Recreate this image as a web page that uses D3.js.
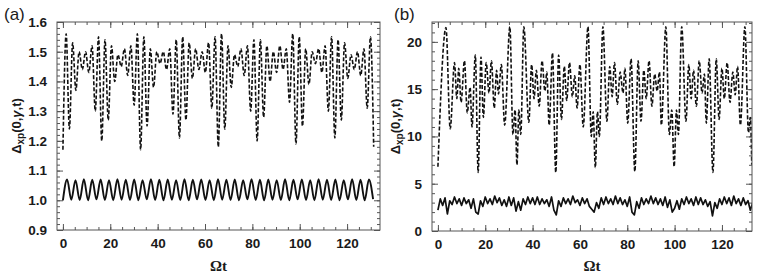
<!DOCTYPE html>
<html>
<head>
<meta charset="utf-8">
<script src="https://cdn.jsdelivr.net/npm/d3@7"></script>
<style>
  body { margin: 0; background: #fff; }
  .tick text { font-family: "Liberation Sans", Arial, sans-serif; font-weight: bold; font-size: 13.5px; fill: #1a1a1a; }
  .tick line { stroke: #555; }
</style>
</head>
<body>
<script>
// ---- panel (a): Δxp vs Ωt, values read at the extrema of each curve ----
var stepDashA = 1.367;   // Ωt spacing of the dashed-curve extrema
var dashA = [
  1.17, 1.56, 1.24, 1.53, 1.37, 1.50, 1.44, 1.50, 1.43, 1.52, 1.30, 1.55,
  1.20, 1.54, 1.27, 1.52, 1.40, 1.49, 1.45, 1.51, 1.42, 1.52, 1.32, 1.56,
  1.17, 1.55, 1.25, 1.51, 1.38, 1.50, 1.46, 1.50, 1.44, 1.51, 1.29, 1.54,
  1.21, 1.55, 1.27, 1.53, 1.41, 1.51, 1.44, 1.50, 1.43, 1.53, 1.31, 1.55,
  1.18, 1.56, 1.24, 1.52, 1.38, 1.49, 1.45, 1.51, 1.42, 1.52, 1.30, 1.54,
  1.20, 1.54, 1.28, 1.52, 1.40, 1.50, 1.43, 1.52, 1.44, 1.51, 1.33, 1.56,
  1.19, 1.55, 1.25, 1.51, 1.39, 1.50, 1.46, 1.51, 1.43, 1.52, 1.30, 1.55,
  1.21, 1.54, 1.27, 1.53, 1.41, 1.49, 1.44, 1.50, 1.42, 1.51, 1.31, 1.55,
  1.18
];
var stepSolidA = 1.77;   // half period of the solid curve
var solidA = [
  1.000, 1.070, 1.002, 1.068, 1.001, 1.071, 1.000, 1.069, 1.003, 1.070,
  1.001, 1.068, 1.000, 1.071, 1.002, 1.069, 1.001, 1.070, 1.000, 1.068,
  1.003, 1.071, 1.001, 1.069, 1.000, 1.070, 1.002, 1.068, 1.001, 1.071,
  1.000, 1.069, 1.003, 1.070, 1.001, 1.068, 1.000, 1.071, 1.002, 1.069,
  1.001, 1.070, 1.000, 1.068, 1.003, 1.071, 1.001, 1.069, 1.000, 1.070,
  1.002, 1.068, 1.001, 1.071, 1.000, 1.069, 1.003, 1.070, 1.001, 1.068,
  1.000, 1.071, 1.002, 1.069, 1.001, 1.070, 1.000, 1.068, 1.003, 1.071,
  1.001, 1.069, 1.000, 1.070, 1.004
];

// ---- panel (b) ----
var dashBt = [
  0.0, 3.4, 5.2, 7.0, 8.0, 8.8, 9.8, 11.2, 12.4, 13.6, 14.4, 15.8, 17.0, 18.2, 19.2, 20.4,
  21.6, 22.6, 23.8, 24.8, 25.6, 26.8, 28.2, 30.4, 31.7, 32.6, 33.4, 34.2, 35.0, 36.3, 38.4,
  39.6, 40.6, 41.6, 42.8, 44.0, 45.2, 46.0, 47.0, 48.4, 49.8, 51.0, 52.2, 53.4, 54.4, 55.6,
  56.8, 57.8, 58.8, 60.0, 61.4, 63.4, 64.8, 65.6, 66.5, 67.4, 68.2, 69.7, 71.4, 72.6, 73.6,
  74.6, 75.8, 77.0, 78.2, 79.0, 80.2, 81.6, 83.2, 84.6, 85.8, 87.0, 88.0, 89.2, 90.4, 91.6,
  92.6, 93.6, 94.4, 96.3, 97.8, 98.8, 99.8, 100.8, 101.6, 103.0, 104.8, 106.0, 107.0, 108.0,
  109.2, 110.4, 111.6, 112.6, 113.4, 114.6, 116.2, 117.6, 118.8, 120.0, 121.0, 122.2, 123.4,
  124.6, 125.6, 126.6, 127.8, 129.7, 131.2, 132.0, 132.6
];
var dashB = [
  6.8, 21.5, 10.8, 17.8, 14.0, 17.2, 13.6, 18.0, 12.5, 15.2, 11.0, 18.6, 6.2, 18.4, 12.0, 17.8,
  14.6, 18.0, 13.0, 17.0, 14.5, 17.6, 11.2, 21.6, 10.2, 12.8, 7.0, 12.8, 10.2, 21.6, 11.5,
  17.6, 14.0, 17.0, 13.2, 18.0, 14.8, 16.8, 11.2, 18.8, 6.2, 18.6, 11.8, 17.4, 13.8, 17.8,
  14.2, 16.4, 13.0, 17.6, 11.0, 21.6, 10.0, 12.6, 6.7, 12.6, 10.0, 21.6, 11.6, 17.4, 14.2,
  17.8, 13.4, 16.8, 14.6, 17.2, 11.4, 18.2, 6.3, 18.0, 11.6, 17.0, 14.0, 18.0, 13.2, 16.6,
  14.8, 16.8, 11.2, 21.6, 10.2, 12.8, 6.8, 12.8, 10.2, 21.6, 11.6, 17.6, 14.0, 17.0,
  13.2, 18.0, 14.6, 16.6, 11.4, 18.2, 6.2, 18.2, 11.8, 17.2, 14.0, 17.8, 13.6,
  16.8, 14.4, 17.4, 11.2, 21.6, 10.4, 12.0, 7.0
];
var stepSolidB = 1.0;
var solidB = [
  2.2, 3.4, 2.7, 3.5, 1.8, 3.2, 2.8, 3.6, 2.9, 3.4, 2.7,
  3.5, 2.9, 3.3, 2.4, 3.4, 2.0, 1.8, 3.2, 2.6, 3.6,
  2.9, 3.4, 2.8, 3.7, 3.0, 3.5, 2.7, 3.3, 2.6, 3.6,
  2.7, 3.5, 2.1, 3.1, 2.2, 3.4, 2.8, 3.6, 2.9, 3.5,
  2.8, 3.6, 2.8, 3.4, 2.9, 3.3, 2.6, 3.6, 2.2, 1.7,
  3.2, 2.6, 3.5, 2.9, 3.4, 2.8, 3.7, 3.0, 3.3, 2.7,
  3.5, 2.9, 3.4, 2.6, 2.3, 2.0, 3.0, 2.4, 3.5, 2.8,
  3.6, 2.9, 3.4, 2.8, 3.7, 2.9, 3.5, 2.8, 3.3, 2.6,
  3.6, 2.0, 1.7, 3.1, 2.4, 3.5, 2.8, 3.4, 2.9, 3.7,
  2.9, 3.5, 2.8, 3.4, 2.7, 3.6, 2.5, 3.3, 2.0, 2.4,
  3.2, 2.3, 3.4, 2.8, 3.6, 2.9, 3.4, 2.7, 3.6, 2.8,
  3.5, 2.8, 3.3, 2.6, 3.1, 1.6, 3.0, 2.4, 3.4, 2.8,
  3.6, 2.9, 3.5, 2.7, 3.7, 2.9, 3.4, 2.7, 3.5, 2.8,
  3.2, 2.2, 3.0
];

var yTicksA = [0.9, 1.0, 1.1, 1.2, 1.3, 1.4, 1.5, 1.6];
var yTicksB = [0, 5, 10, 15, 20];
var xTicks = [0, 20, 40, 60, 80, 100, 120];

var W = 763, H = 273;
var svg = d3.select("body").append("svg")
  .attr("width", W).attr("height", H)
  .style("background", "#fff");

function rangeTicks(a, b, s) {
  var out = [];
  for (var v = a; v <= b + 1e-9; v += s) out.push(+v.toFixed(4));
  return out;
}

function panel(opt) {
  var x = d3.scaleLinear().domain(opt.xDomain).range([opt.left, opt.right]);
  var y = d3.scaleLinear().domain(opt.yDomain).range([opt.bottom, opt.top]);
  var g = svg.append("g");

  var clipId = "clip" + opt.name;
  svg.append("clipPath").attr("id", clipId).append("rect")
    .attr("x", opt.left).attr("y", opt.top)
    .attr("width", opt.right - opt.left).attr("height", opt.bottom - opt.top);

  var xMinor = rangeTicks(0, opt.xDomain[1], 5);
  var yMinor = rangeTicks(opt.yDomain[0], opt.yDomain[1], opt.yMinorStep);

  // minor ticks on four sides
  [[d3.axisBottom(x), "translate(0," + opt.bottom + ")", xMinor],
   [d3.axisTop(x), "translate(0," + opt.top + ")", xMinor],
   [d3.axisLeft(y), "translate(" + opt.left + ",0)", yMinor],
   [d3.axisRight(y), "translate(" + opt.right + ",0)", yMinor]].forEach(function(a) {
    g.append("g").attr("transform", a[1])
      .call(a[0].tickValues(a[2]).tickSize(-3).tickFormat(""))
      .call(function(s) { s.select(".domain").remove(); });
  });

  // major ticks with labels on bottom / left
  g.append("g").attr("transform", "translate(0," + opt.bottom + ")")
    .call(d3.axisBottom(x).tickValues(xTicks).tickSize(-6).tickPadding(8))
    .call(function(s) { s.select(".domain").remove(); });
  g.append("g").attr("transform", "translate(0," + opt.top + ")")
    .call(d3.axisTop(x).tickValues(xTicks).tickSize(-6).tickFormat(""))
    .call(function(s) { s.select(".domain").remove(); });
  g.append("g").attr("transform", "translate(" + opt.left + ",0)")
    .call(d3.axisLeft(y).tickValues(opt.yTicks).tickSize(-6).tickPadding(10).tickFormat(opt.yFormat))
    .call(function(s) { s.select(".domain").remove(); });
  g.append("g").attr("transform", "translate(" + opt.right + ",0)")
    .call(d3.axisRight(y).tickValues(opt.yTicks).tickSize(-6).tickFormat(""))
    .call(function(s) { s.select(".domain").remove(); });

  var plot = g.append("g").attr("clip-path", "url(#" + clipId + ")");
  opt.series.forEach(function(s) {
    var line = d3.line()
      .x(function(d) { return x(d[0]); })
      .y(function(d) { return y(d[1]); })
      .curve(s.curve);
    plot.append("path")
      .datum(s.data)
      .attr("d", line)
      .attr("fill", "none")
      .attr("stroke", "#111")
      .attr("stroke-width", s.width)
      .attr("stroke-dasharray", s.dash || null)
      .attr("stroke-linejoin", "round");
  });

  g.append("rect")
    .attr("x", opt.left).attr("y", opt.top)
    .attr("width", opt.right - opt.left).attr("height", opt.bottom - opt.top)
    .attr("fill", "none").attr("stroke", "#555").attr("stroke-width", 1);

  // axis titles
  var yl = g.append("text")
    .attr("transform", "translate(" + opt.yLabelX + "," + ((opt.top + opt.bottom) / 2) + ") rotate(-90)")
    .attr("text-anchor", "middle")
    .style("font-family", "'Liberation Sans', Arial, sans-serif")
    .style("font-weight", "bold").style("font-size", "13px").attr("fill", "#1a1a1a");
  yl.append("tspan").text("\u0394");
  yl.append("tspan").attr("dy", 3).style("font-size", "10px").text("xp");
  yl.append("tspan").attr("dy", -3).text("(0,");
  yl.append("tspan").style("font-style", "italic").text("\u03b3");
  yl.append("tspan").text(",t)");

  g.append("text")
    .attr("x", (opt.left + opt.right) / 2).attr("y", 271)
    .attr("text-anchor", "middle")
    .style("font-family", "'Liberation Serif', 'Times New Roman', serif")
    .style("font-weight", "bold").style("font-size", "15px").attr("fill", "#1a1a1a")
    .text("\u03a9t");

  g.append("text")
    .attr("x", opt.tagX).attr("y", 20)
    .style("font-family", "'Liberation Sans', Arial, sans-serif")
    .style("font-size", "17px").attr("fill", "#1a1a1a")
    .text(opt.tag);
}

panel({
  name: "A", tag: "(a)", tagX: 4,
  left: 57, right: 380, top: 22, bottom: 230,
  xDomain: [-2.5, 133.9], yDomain: [0.9, 1.6],
  yTicks: yTicksA, yMinorStep: 0.02, yFormat: d3.format(".1f"),
  yLabelX: 21,
  series: [
    { data: dashA.map(function(v, i) { return [i * stepDashA, v]; }), width: 1.6, dash: "4,2", curve: d3.curveMonotoneX },
    { data: solidA.map(function(v, i) { return [i * stepSolidA, v]; }), width: 1.9, curve: d3.curveMonotoneX }
  ]
});

panel({
  name: "B", tag: "(b)", tagX: 394,
  left: 432, right: 752, top: 22, bottom: 231,
  xDomain: [-2.5, 132.7], yDomain: [0, 22.1],
  yTicks: yTicksB, yMinorStep: 1, yFormat: d3.format("d"),
  yLabelX: 400,
  series: [
    { data: dashBt.map(function(t, i) { return [t, dashB[i]]; }), width: 1.6, dash: "4,2", curve: d3.curveMonotoneX },
    { data: solidB.map(function(v, i) { return [i * stepSolidB, v]; }), width: 1.7, curve: d3.curveLinear }
  ]
});
</script>
</body>
</html>
